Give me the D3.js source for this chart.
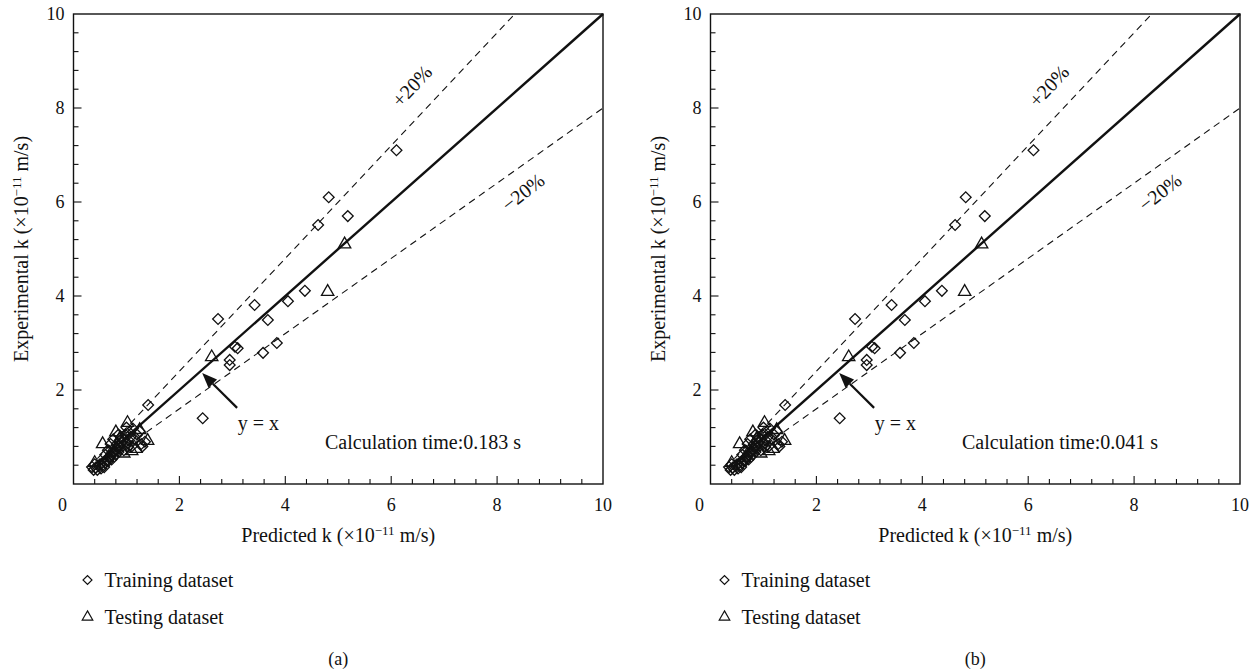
<!DOCTYPE html>
<html>
<head>
<meta charset="utf-8">
<script src="https://cdn.jsdelivr.net/npm/d3@7"></script>
<style>
  body { margin: 0; background: #fff; }
  #svg-container { width: 1260px; height: 669px; }
  svg { font-family: "Liberation Serif", "DejaVu Serif", serif; }
</style>
</head>
<body>
<div id="svg-container"></div>
<script>
////////////////////////////////////////////////////////////////////
////////////////////////////  Data  ////////////////////////////////
// training dataset (diamonds): predicted k vs experimental k (x10^-11 m/s)
const trainPredicted = [
  6.10, 4.82, 5.18, 4.62, 2.73, 3.42, 3.67, 4.05, 4.37, 3.10, 3.05, 2.95, 2.95, 3.58, 3.84, 2.44, 1.41,
  0.42, 0.45, 0.48, 0.50, 0.52, 0.55, 0.58, 0.60, 0.62, 0.65, 0.68, 0.70, 0.72, 0.75, 0.78, 0.80,
  0.80, 0.82, 0.85, 0.85, 0.88, 0.90, 0.90, 0.92, 0.95, 0.95, 0.98, 1.00, 1.02, 1.05, 1.05, 1.08,
  1.10, 1.12, 1.15, 1.20, 1.25, 1.28, 1.30, 1.35, 0.75, 0.70, 0.65, 0.60, 0.85, 1.00,
  0.35, 0.38, 0.40
];
const trainExperimental = [
  7.10, 6.10, 5.70, 5.51, 3.51, 3.81, 3.49, 3.89, 4.11, 2.89, 2.92, 2.64, 2.53, 2.79, 3.00, 1.40, 1.68,
  0.35, 0.30, 0.38, 0.42, 0.33, 0.40, 0.36, 0.45, 0.50, 0.48, 0.55, 0.60, 0.52, 0.65, 0.70, 0.62,
  0.75, 0.85, 0.80, 0.68, 0.92, 0.78, 1.00, 0.88, 0.72, 0.95, 1.05, 0.85, 0.78, 1.10, 0.92, 1.00,
  0.80, 1.18, 0.95, 1.05, 1.12, 0.85, 0.80, 0.90, 0.95, 0.85, 0.72, 0.62, 1.05, 1.20,
  0.36, 0.30, 0.42
];
// testing dataset (triangles)
const testPredicted = [5.12, 4.80, 2.61, 0.55, 0.40, 0.80, 1.02, 1.40, 1.18, 0.95, 0.72, 0.88, 1.25, 0.65, 1.10];
const testExperimental = [5.10, 4.09, 2.70, 0.85, 0.45, 1.10, 1.30, 0.92, 0.75, 0.65, 0.68, 0.98, 1.15, 0.55, 0.70];

const tickLabels = [2, 4, 6, 8, 10];
const minorTicks = d3.range(1, 25).map((i) => i * 0.4);
const bounds = [
  { label: "+20%", slope: 1.2 },
  { label: "\u221220%", slope: 0.8 }
];
const calcTimes = ["0.183 s", "0.041 s"];
const panelLabels = ["(a)", "(b)"];
const legendItems = ["Training dataset", "Testing dataset"];

////////////////////////////////////////////////////////////////////
////////////////////////////  Init  ////////////////////////////////
const svg = d3.select("#svg-container").append("svg")
  .attr("width", 1260).attr("height", 669);

const plotW = 529.5, plotH = 470, plotTop = 14;
const panelX = [73.5, 710.5];
const ink = "#111";
const fs = 20, tickFs = 18;

const diamond = d3.symbol().type(d3.symbolSquare).size(58)();
const triangle = d3.symbol().type(d3.symbolTriangle).size(66)();

panelX.forEach((left, p) => {
  const g = svg.append("g");
  const x = d3.scaleLinear().domain([0, 10]).range([left, left + plotW]);
  const y = d3.scaleLinear().domain([0, 10]).range([plotTop + plotH, plotTop]);

  // frame
  g.append("rect")
    .attr("x", x(0)).attr("y", y(10))
    .attr("width", plotW).attr("height", plotH)
    .attr("fill", "none").attr("stroke", ink).attr("stroke-width", 1.4);

  // ticks (inward)
  const isMajor = (v) => Math.abs(v / 2 - Math.round(v / 2)) < 1e-6;
  g.selectAll(".xt").data(minorTicks).enter().append("line")
    .attr("x1", (d) => x(d)).attr("x2", (d) => x(d))
    .attr("y1", y(0)).attr("y2", (d) => y(0) - (isMajor(d) ? 8 : 5))
    .attr("stroke", ink).attr("stroke-width", 1.1);
  g.selectAll(".yt").data(minorTicks).enter().append("line")
    .attr("y1", (d) => y(d)).attr("y2", (d) => y(d))
    .attr("x1", x(0)).attr("x2", (d) => x(0) + (isMajor(d) ? 8 : 5))
    .attr("stroke", ink).attr("stroke-width", 1.1);

  // tick labels
  g.selectAll(".xl").data(tickLabels).enter().append("text")
    .attr("x", (d) => x(d)).attr("y", y(0) + 27)
    .attr("text-anchor", "middle").attr("font-size", tickFs).attr("fill", ink)
    .text((d) => d);
  g.selectAll(".yl").data(tickLabels).enter().append("text")
    .attr("x", x(0) - 9).attr("y", (d) => y(d) + 6)
    .attr("text-anchor", "end").attr("font-size", tickFs).attr("fill", ink)
    .text((d) => d);
  g.append("text")
    .attr("x", x(0) - 11).attr("y", y(0) + 27)
    .attr("text-anchor", "middle").attr("font-size", tickFs).attr("fill", ink)
    .text("0");

  // axis titles
  const xTitle = g.append("text")
    .attr("x", x(5)).attr("y", y(0) + 58)
    .attr("text-anchor", "middle").attr("font-size", fs).attr("fill", ink);
  xTitle.append("tspan").text("Predicted k (\u00d710");
  xTitle.append("tspan").attr("dy", -7).attr("font-size", 13).text("\u221211");
  xTitle.append("tspan").attr("dy", 7).text(" m/s)");

  const yTitle = g.append("text")
    .attr("transform", `translate(${left - 46},${y(5)}) rotate(-90)`)
    .attr("text-anchor", "middle").attr("font-size", fs).attr("fill", ink);
  yTitle.append("tspan").text("Experimental k (\u00d710");
  yTitle.append("tspan").attr("dy", -7).attr("font-size", 13).text("\u221211");
  yTitle.append("tspan").attr("dy", 7).text(" m/s)");

  // y = x and +-20% lines
  g.append("line")
    .attr("x1", x(0.45)).attr("y1", y(0.45)).attr("x2", x(10)).attr("y2", y(10))
    .attr("stroke", ink).attr("stroke-width", 2.4);
  g.selectAll(".bound").data(bounds).enter().append("line")
    .attr("x1", x(0.45)).attr("y1", (d) => y(0.45 * d.slope))
    .attr("x2", (d) => x(Math.min(10, 10 / d.slope)))
    .attr("y2", (d) => y(Math.min(10, 10 * d.slope)))
    .attr("stroke", ink).attr("stroke-width", 1.1)
    .attr("stroke-dasharray", "7,5");

  g.append("text")
    .attr("transform", `translate(${x(6.39)},${y(8.47)}) rotate(-47)`)
    .attr("text-anchor", "middle").attr("dy", 7)
    .attr("font-size", fs).attr("fill", ink).text(bounds[0].label);
  g.append("text")
    .attr("transform", `translate(${x(8.49)},${y(6.21)}) rotate(-38)`)
    .attr("text-anchor", "middle").attr("dy", 7)
    .attr("font-size", fs).attr("fill", ink).text(bounds[1].label);

  // arrow to y = x
  const tip = [x(2.43), y(2.36)], tail = [x(3.09), y(1.62)];
  const ang = Math.atan2(tip[1] - tail[1], tip[0] - tail[0]);
  const hl = 15, hw = 6;
  const bx = tip[0] - hl * Math.cos(ang), by = tip[1] - hl * Math.sin(ang);
  g.append("line")
    .attr("x1", tail[0]).attr("y1", tail[1]).attr("x2", bx).attr("y2", by)
    .attr("stroke", ink).attr("stroke-width", 2.2);
  g.append("path")
    .attr("d", `M${tip[0]},${tip[1]} L${bx + hw * Math.sin(ang)},${by - hw * Math.cos(ang)} L${bx - hw * Math.sin(ang)},${by + hw * Math.cos(ang)} Z`)
    .attr("fill", ink);
  g.append("text")
    .attr("x", x(3.1)).attr("y", y(1.15))
    .attr("font-size", fs).attr("fill", ink).text("y = x");

  g.append("text")
    .attr("x", x(4.75)).attr("y", y(0.75))
    .attr("font-size", fs).attr("fill", ink)
    .text("Calculation time:" + calcTimes[p]);

  // points
  g.selectAll(".train").data(trainPredicted).enter().append("path")
    .attr("d", diamond)
    .attr("transform", (d, i) => `translate(${x(d)},${y(trainExperimental[i])}) rotate(45)`)
    .attr("fill", "none").attr("stroke", ink).attr("stroke-width", 1.3);
  g.selectAll(".test").data(testPredicted).enter().append("path")
    .attr("d", triangle)
    .attr("transform", (d, i) => `translate(${x(d)},${y(testExperimental[i])})`)
    .attr("fill", "none").attr("stroke", ink).attr("stroke-width", 1.3);

  // legend
  const lg = g.append("g").attr("transform", `translate(${left + 14},580)`);
  lg.append("path").attr("d", d3.symbol().type(d3.symbolSquare).size(40)())
    .attr("transform", "rotate(45)")
    .attr("fill", "none").attr("stroke", ink).attr("stroke-width", 1.2);
  lg.append("path").attr("d", d3.symbol().type(d3.symbolTriangle).size(48)())
    .attr("transform", "translate(0,37)")
    .attr("fill", "none").attr("stroke", ink).attr("stroke-width", 1.2);
  lg.selectAll(".lt").data(legendItems).enter().append("text")
    .attr("x", 17).attr("y", (d, i) => 7 + i * 37)
    .attr("font-size", fs).attr("fill", ink).text((d) => d);

  g.append("text")
    .attr("x", x(5)).attr("y", 665)
    .attr("text-anchor", "middle").attr("font-size", tickFs).attr("fill", ink)
    .text(panelLabels[p]);
});
</script>
</body>
</html>
